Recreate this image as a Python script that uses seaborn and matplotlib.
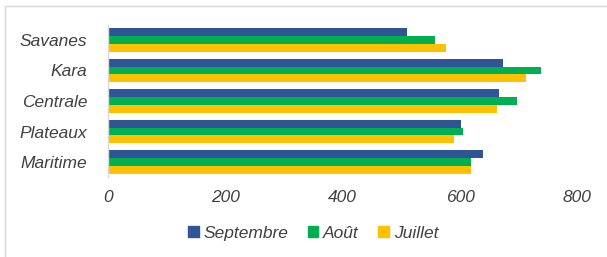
import pandas as pd
import matplotlib.pyplot as plt
import matplotlib.patches as mpatches
import seaborn as sns

# =====================================
# Data
# =====================================

regions = ["Savanes", "Kara", "Centrale", "Plateaux", "Maritime"]
months = ["Septembre", "Août", "Juillet"]

septembre = [509, 674, 666, 602, 639]
aout = [558, 738, 698, 606, 619]
juillet = [576, 712, 664, 589, 618]

colors = ["#2F5597", "#00B050", "#FFC000"]

df = pd.DataFrame({
    "Region": regions * 3,
    "Mois": [m for m in months for _ in regions],
    "Valeur": septembre + aout + juillet,
})

# =====================================
# Plot
# =====================================

sns.set_style("white")
plt.rcParams["font.family"] = ["Liberation Sans", "DejaVu Sans"]

fig = plt.figure(figsize=(6.07, 2.57), dpi=100)
ax = fig.add_axes([0.178, 0.310, 0.773, 0.594])

sns.barplot(
    data=df,
    x="Valeur",
    y="Region",
    hue="Mois",
    order=regions,
    hue_order=months,
    palette=colors,
    saturation=1,
    width=0.76,
    gap=0,
    linewidth=0,
    orient="h",
    ax=ax,
)

ax.set_xlim(0, 800)
ax.set_xticks([0, 200, 400, 600, 800])
ax.set_xlabel("")
ax.set_ylabel("")

for side in ["top", "right", "bottom"]:
    ax.spines[side].set_visible(False)
ax.spines["left"].set_color("#D9D9D9")
ax.spines["left"].set_linewidth(1.0)

ax.tick_params(axis="both", length=0, labelsize=12.5, labelcolor="#404040")
ax.tick_params(axis="x", pad=9)
ax.tick_params(axis="y", pad=15)
for lbl in ax.get_xticklabels() + ax.get_yticklabels():
    lbl.set_fontstyle("italic")

ax.legend_.remove()
handles = [mpatches.Patch(color=c) for c in colors]
fig.legend(
    handles,
    months,
    loc="center",
    bbox_to_anchor=(0.516, 0.093),
    ncol=3,
    frameon=False,
    prop={"size": 12.5, "style": "italic"},
    labelcolor="#404040",
    handlelength=0.6,
    handleheight=0.6,
    handletextpad=0.3,
    columnspacing=1.1,
)

# light frame around chart
fig.patches.append(mpatches.Rectangle(
    (5 / 607, -0.05), 1.1, 1 - 6 / 257 + 0.05,
    transform=fig.transFigure, fill=False,
    edgecolor="#D9D9D9", linewidth=1.0,
))

fig.savefig("out.png", dpi=100)
